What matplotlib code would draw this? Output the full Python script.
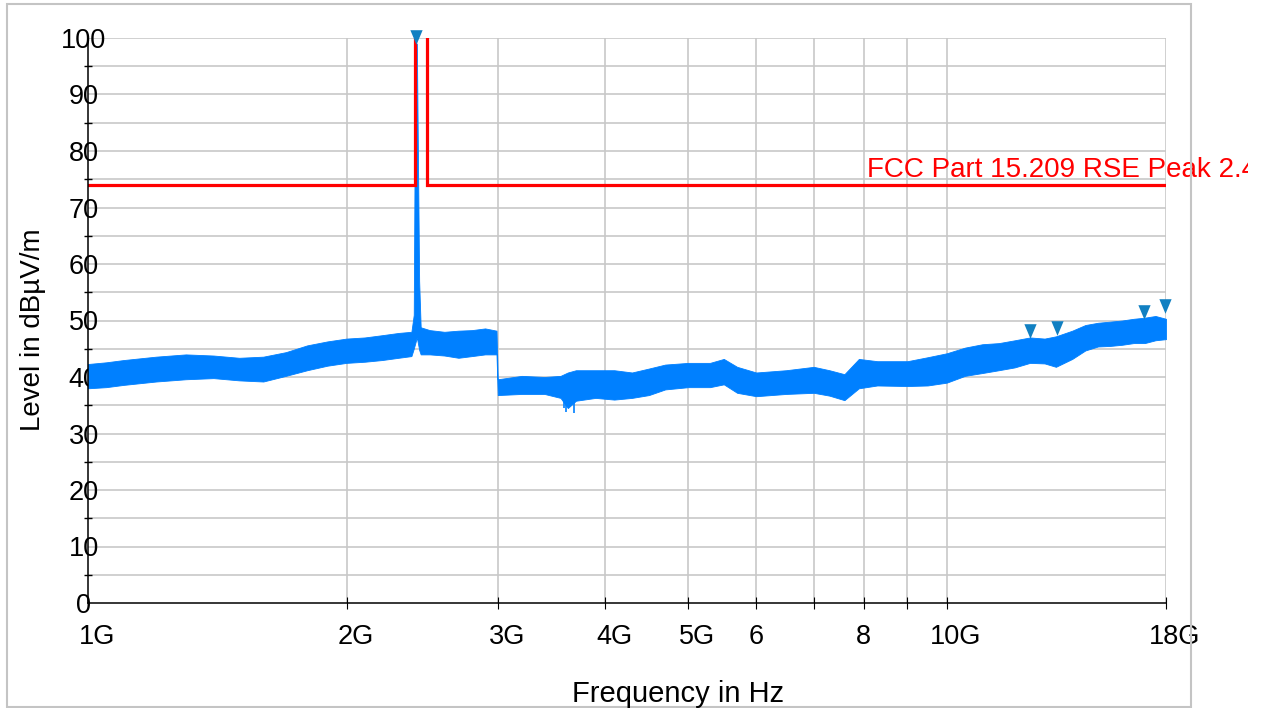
import numpy as np
import matplotlib
matplotlib.use("Agg")
import matplotlib.pyplot as plt
from matplotlib.patches import Rectangle
from matplotlib.transforms import ScaledTranslation, Bbox, TransformedBbox

plt.rcParams['font.family'] = ['Liberation Sans', 'DejaVu Sans']

# ---- data ----
freq_ghz = [1.00, 1.05, 1.10, 1.20, 1.30, 1.40, 1.50, 1.60, 1.70, 1.80, 1.90, 2.00,
            2.10, 2.20, 2.30, 2.38, 2.395, 2.405, 2.415, 2.43, 2.44, 2.50, 2.60,
            2.70, 2.80, 2.90, 2.99, 3.00, 3.20, 3.40, 3.55, 3.62, 3.70, 3.90, 4.10,
            4.30, 4.50, 4.70, 5.00, 5.30, 5.50, 5.70, 6.00, 6.50, 7.00, 7.30, 7.60,
            7.90, 8.30, 9.00, 9.50, 10.0, 10.5, 11.0, 11.5, 12.0, 12.5, 13.0, 13.4,
            14.0, 14.5, 15.0, 15.5, 16.0, 16.5, 17.0, 17.5, 18.0]
level_upper = [42.3, 42.6, 43.0, 43.6, 44.0, 43.8, 43.4, 43.6, 44.4, 45.6, 46.3, 46.8,
               47.0, 47.4, 47.8, 48.0, 51.0, 99.0, 99.0, 57.0, 48.8, 48.3, 48.0,
               48.2, 48.3, 48.6, 48.2, 39.6, 40.2, 40.0, 40.2, 40.8, 41.2, 41.2, 41.2,
               40.8, 41.5, 42.2, 42.5, 42.5, 43.2, 41.8, 40.8, 41.2, 41.8, 41.2, 40.5,
               43.2, 42.8, 42.8, 43.5, 44.2, 45.2, 45.8, 46.0, 46.5, 47.0, 46.8, 47.2,
               48.2, 49.2, 49.6, 49.8, 50.0, 50.3, 50.5, 50.8, 50.3]
level_lower = [38.0, 38.2, 38.6, 39.2, 39.6, 39.8, 39.4, 39.2, 40.2, 41.2, 42.0, 42.5,
               42.7, 43.0, 43.4, 43.7, 45.0, 46.0, 47.0, 44.8, 44.0, 44.0, 43.8,
               43.4, 43.7, 44.0, 44.0, 36.8, 37.0, 37.0, 36.3, 34.5, 35.8, 36.3, 36.0,
               36.3, 36.8, 37.8, 38.2, 38.2, 38.7, 37.2, 36.6, 37.0, 37.2, 36.7, 35.9,
               38.0, 38.5, 38.4, 38.5, 39.0, 40.2, 40.7, 41.2, 41.7, 42.5, 42.4, 41.8,
               43.2, 44.7, 45.4, 45.5, 45.7, 46.0, 46.0, 46.5, 46.7]

# prominent downward noise spikes near 3.6 GHz
spike_dn_ghz = [3.58, 3.60, 3.68]
spike_dn_level = [34.6, 33.8, 33.6]

limit_freq_ghz = [1.0, 2.4, 2.4, 2.4835, 2.4835, 18.0]
limit_level = [74, 74, 110, 110, 74, 74]
limit_label = "FCC Part 15.209 RSE Peak 2.4"

marker_freq_ghz = [2.41, 12.5, 13.44, 16.97, 17.95]
marker_level = [98.8, 46.9, 47.4, 50.3, 51.3]

xtick_ghz = [1, 2, 3, 4, 5, 6, 7, 8, 9, 10, 18]
xtick_labels = ["1G", "2G", "3G", "4G", "5G", "6", "", "8", "", "10G", "18G"]
ytick_vals = list(range(0, 101, 10))
ytick_minor = list(range(5, 100, 10))

# ---- figure ----
W, H, DPI = 1269, 708, 100
fig = plt.figure(figsize=(W / DPI, H / DPI), dpi=DPI)
fig.patch.set_facecolor('white')
fig.patches.append(Rectangle((7 / W, 1 / H), (1191 - 7) / W, (707 - 4) / H,
                             transform=fig.transFigure, fill=False,
                             edgecolor='#c4c4c4', linewidth=1.5, zorder=0))

ax = fig.add_axes([88 / W, (H - 603) / H, (1166 - 88) / W, (603 - 38) / H])
ax.set_xscale('log')
ax.set_xlim(1e9, 18e9)
ax.set_ylim(0, 100)

blue = '#0080ff'
f = np.array(freq_ghz) * 1e9
ax.fill_between(f, level_lower, level_upper, color=blue, linewidth=0.6,
                edgecolor=blue, zorder=3)
dn_base = np.interp(np.log(spike_dn_ghz), np.log(freq_ghz), level_lower)
ax.vlines(np.array(spike_dn_ghz) * 1e9, spike_dn_level, dn_base + 1, color=blue,
          linewidth=1.2, zorder=3)

ax.plot(np.array(limit_freq_ghz) * 1e9, limit_level, color='#ff0000', linewidth=2.3,
        zorder=4, solid_joinstyle='miter')

tri = [(-0.42, 0.5), (0.42, 0.5), (0.0, -0.5)]
msz = 10.5
mk_off = ax.transData + ScaledTranslation(0, msz / 2 / 72, fig.dpi_scale_trans)
ax.plot(np.array(marker_freq_ghz) * 1e9, marker_level, linestyle='none', marker=tri,
        markersize=msz, color='#1180c2', markeredgewidth=0, transform=mk_off,
        clip_on=False, zorder=5)

fs = 19.5
t = ax.text(867 / W, (H - 177) / H, limit_label, transform=fig.transFigure,
            color='#ff0000', fontsize=20, ha='left', va='baseline', zorder=6)
t.set_clip_box(TransformedBbox(Bbox([[0, 0], [1248 / W, 1]]), fig.transFigure))
t.set_clip_on(True)

# grid
for v in range(5, 101, 5):
    ax.axhline(v, color='#c8c8c8', linewidth=1.2, zorder=1)
for g in xtick_ghz[1:]:
    ax.axvline(g * 1e9, color='#c8c8c8', linewidth=1.2, zorder=1)

for s in ['top', 'right']:
    ax.spines[s].set_visible(False)
for s in ['left', 'bottom']:
    ax.spines[s].set_color('black')
    ax.spines[s].set_linewidth(1.1)
    ax.spines[s].set_zorder(4)

ax.set_xticks([g * 1e9 for g in xtick_ghz])
ax.set_xticklabels(xtick_labels)
ax.xaxis.set_minor_locator(matplotlib.ticker.NullLocator())
ax.tick_params(axis='x', direction='inout', length=9, width=0.8, pad=10.5,
               labelsize=fs, colors='black')

ax.set_yticks(ytick_vals)
ax.set_yticks(ytick_minor, minor=True)
ax.tick_params(axis='y', which='major', direction='inout', length=0, pad=3.0,
               labelsize=fs)
ax.tick_params(axis='y', which='minor', direction='inout', length=6, width=1.0)
for lab in ax.get_yticklabels():
    lab.set_horizontalalignment('center')
    lab.set_verticalalignment('center_baseline')

# shift "G" labels so the number sits centred on the tick
for lab, txt in zip(ax.get_xticklabels(), xtick_labels):
    if txt.endswith('G'):
        dx = 0.667 * fs / 2
        lab.set_transform(lab.get_transform() + ScaledTranslation(dx / 72, 0, fig.dpi_scale_trans))

fig.text(33 / W, (H - 330) / H, "Level in dBµV/m", rotation=90, ha='center',
         va='center', fontsize=20)
fig.text(678 / W, (H - 702) / H, "Frequency in Hz", ha='center', va='baseline',
         fontsize=21)

fig.savefig("out.png", dpi=DPI)
